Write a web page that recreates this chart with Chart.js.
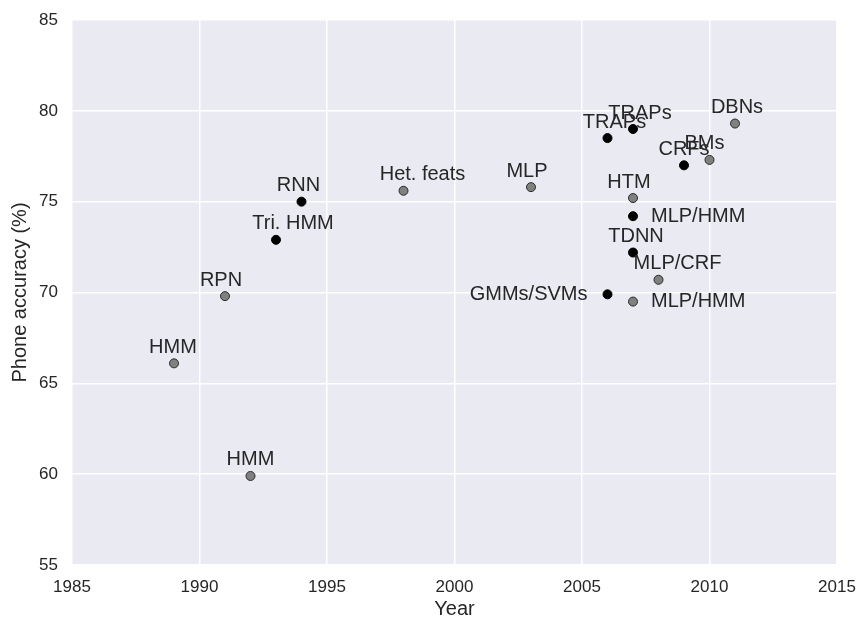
<!DOCTYPE html>
<html>
<head>
<meta charset="utf-8">
<script src="https://cdn.jsdelivr.net/npm/chart.js@4/dist/chart.umd.min.js"></script>
<style>
  html, body { margin: 0; padding: 0; background: #fff; }
  #wrap { width: 862px; height: 619px; }
</style>
</head>
<body>
<div id="wrap"><canvas id="graphique"></canvas></div>
<script>
// Points noirs
const anneesNoir = [1993, 1994, 2006, 2007, 2009, 2007, 2007, 2006]
const precisionNoir = [72.9, 75.0, 78.5, 79.0, 77.0, 74.2, 72.2, 69.9]
const nomsNoir = ["Tri. HMM", "RNN", "TRAPs", "TRAPs", "CRFs", "MLP/HMM", "TDNN", "GMMs/SVMs"]

// Points gris
const anneesGris = [1989, 1992, 1991, 1998, 2003, 2011, 2010, 2007, 2008, 2007]
const precisionGris = [66.1, 59.9, 69.8, 75.6, 75.8, 79.3, 77.3, 75.2, 70.7, 69.5]
const nomsGris = ["HMM", "HMM", "RPN", "Het. feats", "MLP", "DBNs", "BMs", "HTM", "MLP/CRF", "MLP/HMM"]

// Position des étiquettes par rapport au point (dx, dy en px, alignement)
const decalNoir = [[17, -16, 'center'], [-3, -16, 'center'], [7, -16, 'center'], [7, -16, 'center'],
    [0, -16, 'center'], [18, 0, 'left'], [3, -16, 'center'], [-20, 0, 'right']]
const decalGris = [[-1, -16, 'center'], [0, -16, 'center'], [-4, -16, 'center'], [19, -16, 'center'],
    [-4, -16, 'center'], [2, -16, 'center'], [-5, -16, 'center'], [-4, -16, 'center'],
    [19, -16, 'center'], [18, 0, 'left']]

const ticksX = [1985, 1990, 1995, 2000, 2005, 2010, 2015]
const ticksY = [55, 60, 65, 70, 75, 80, 85]

const police = '"Liberation Sans", Arial, sans-serif'
const couleurTexte = '#262626'

function versPoints(xs, ys) {
    return xs.map((x, i) => ({ x: x, y: ys[i] }))
}

// fond gris de la zone du graphique
const fondPlugin = {
    id: 'fond',
    beforeDraw(chart) {
        const { ctx, chartArea } = chart
        ctx.save()
        ctx.fillStyle = '#EAEAF2'
        ctx.fillRect(chartArea.left, chartArea.top, chartArea.right - chartArea.left, chartArea.bottom - chartArea.top)
        ctx.restore()
    }
}

// étiquettes à côté des points
const etiquettesPlugin = {
    id: 'etiquettes',
    afterDatasetsDraw(chart) {
        const ctx = chart.ctx
        ctx.save()
        ctx.font = '20px ' + police
        ctx.fillStyle = couleurTexte
        ctx.textBaseline = 'middle'
        chart.data.datasets.forEach((ds, d) => {
            const meta = chart.getDatasetMeta(d)
            meta.data.forEach((pt, i) => {
                const dec = ds.decalages[i]
                ctx.textAlign = dec[2]
                ctx.fillText(ds.noms[i], pt.x + dec[0], pt.y + dec[1])
            })
        })
        ctx.restore()
    }
}

const data = {
    datasets: [
        {
            label: 'gris',
            data: versPoints(anneesGris, precisionGris),
            noms: nomsGris,
            decalages: decalGris,
            backgroundColor: '#808080',
            borderColor: '#2a2a2a',
            borderWidth: 1,
            pointRadius: 4.5
        },
        {
            label: 'noir',
            data: versPoints(anneesNoir, precisionNoir),
            noms: nomsNoir,
            decalages: decalNoir,
            backgroundColor: '#000000',
            borderColor: '#000000',
            borderWidth: 1,
            pointRadius: 4.5
        }
    ]
}

const config = {
    type: 'scatter',
    data: data,
    options: {
        responsive: true,
        maintainAspectRatio: false,
        animation: false,
        layout: { padding: { top: 20, right: 25, left: 0, bottom: 0 } },
        plugins: {
            legend: { display: false },
            tooltip: { enabled: false }
        },
        scales: {
            x: {
                type: 'linear',
                min: 1985,
                max: 2015,
                afterBuildTicks: (scale) => { scale.ticks = ticksX.map(v => ({ value: v })) },
                afterFit: (scale) => {
                    scale.height = 54
                    scale.paddingLeft = 0 //sinon Chart.js rétrécit la zone
                    scale.paddingRight = 0
                },
                border: { display: false },
                grid: { color: '#ffffff', lineWidth: 1.5, drawTicks: false },
                ticks: {
                    padding: 12,
                    color: couleurTexte,
                    font: { family: police, size: 17 },
                    callback: (v) => String(v)
                },
                title: {
                    display: true,
                    text: 'Year',
                    color: couleurTexte,
                    font: { family: police, size: 20, lineHeight: 1 },
                    padding: { top: 0, bottom: 0 }
                }
            },
            y: {
                type: 'linear',
                min: 55,
                max: 85,
                afterBuildTicks: (scale) => { scale.ticks = ticksY.map(v => ({ value: v })) },
                afterFit: (scale) => {
                    scale.width = 72
                    scale.paddingTop = 0
                    scale.paddingBottom = 0
                },
                border: { display: false },
                grid: { color: '#ffffff', lineWidth: 1.5, drawTicks: false },
                ticks: {
                    padding: 14,
                    color: couleurTexte,
                    font: { family: police, size: 17 },
                    callback: (v) => String(v)
                },
                title: {
                    display: true,
                    text: 'Phone accuracy (%)',
                    color: couleurTexte,
                    font: { family: police, size: 20 },
                    padding: { top: 8, bottom: 0 }
                }
            }
        }
    },
    plugins: [fondPlugin, etiquettesPlugin]
}

const graphique = new Chart(document.querySelector('#graphique'), config)
</script>
</body>
</html>
